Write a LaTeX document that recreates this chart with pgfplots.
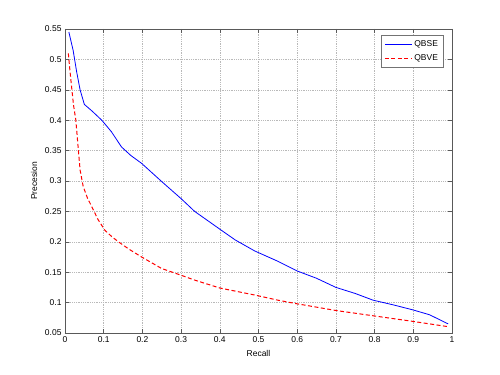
\documentclass[border=0pt]{standalone}
\usepackage{pgfplots}
\pgfplotsset{compat=1.18}
\usepackage{fontspec}
\setmainfont{Liberation Sans}
\begin{document}
\begin{tikzpicture}[x=1bp,y=1bp]
\path[use as bounding box] (-65bp,-42bp) rectangle (435bp,333bp);
\begin{axis}[
  scale only axis, width=387bp, height=304bp,
  at={(0,0)}, anchor=south west,
  xmin=0, xmax=1, ymin=0.05, ymax=0.55,
  xtick={0,0.1,...,1.01},
  ytick={0.05,0.1,0.15,0.2,0.25,0.3,0.35,0.4,0.45,0.5,0.55},
  xticklabels={0,0.1,0.2,0.3,0.4,0.5,0.6,0.7,0.8,0.9,1},
  yticklabels={0.05,0.1,0.15,0.2,0.25,0.3,0.35,0.4,0.45,0.5,0.55},
  grid=major,
  major grid style={gray!55, line width=0.5bp, dash pattern=on 0.6bp off 1.2bp},
  axis line style={black!65, line width=0.6bp},
  tick style={black!65, line width=0.5bp},
  tick align=inside, major tick length=4bp,
  ticklabel style={font=\fontsize{8.5}{9}\selectfont},
  xlabel={Recall}, ylabel={Precesion},
  label style={font=\fontsize{8.5}{9}\selectfont},
  xlabel style={yshift=-1bp},
  ylabel style={yshift=1bp},
  legend style={at={(0.977,0.98)}, anchor=north east, draw=black!55,
    font=\fontsize{8.5}{9}\selectfont, inner xsep=3bp, inner ysep=3bp, row sep=3bp},
  legend image code/.code={\draw[#1] (0bp,0bp) -- (27bp,0bp);},
  legend cell align=left,
]
\addplot[blue, line width=0.8bp] coordinates {
(0.010,0.545)(0.021,0.515)(0.030,0.48)(0.039,0.45)(0.05,0.426)(0.07,0.415)
(0.095,0.400)(0.12,0.381)(0.146,0.356)(0.17,0.342)(0.198,0.329)(0.25,0.299)
(0.30,0.271)(0.335,0.25)(0.404,0.219)(0.44,0.203)(0.49,0.185)(0.55,0.168)
(0.60,0.152)(0.65,0.140)(0.70,0.125)(0.75,0.115)(0.796,0.104)(0.85,0.096)
(0.899,0.088)(0.942,0.080)(0.99,0.065)};
\addlegendentry{QBSE}
\addplot[red, line width=1bp, dash pattern=on 4bp off 2.5bp] coordinates {
(0.0086,0.51)(0.013,0.48)(0.017,0.455)(0.022,0.425)(0.028,0.40)(0.034,0.355)
(0.039,0.318)(0.047,0.291)(0.058,0.272)(0.069,0.258)(0.085,0.237)(0.103,0.219)
(0.12,0.209)(0.138,0.200)(0.165,0.188)(0.198,0.175)(0.25,0.156)(0.30,0.145)
(0.335,0.137)(0.40,0.124)(0.49,0.1125)(0.55,0.104)(0.60,0.098)(0.70,0.087)
(0.80,0.078)(0.90,0.069)(0.99,0.0604)};
\addlegendentry{QBVE}
\end{axis}
\end{tikzpicture}
\end{document}
